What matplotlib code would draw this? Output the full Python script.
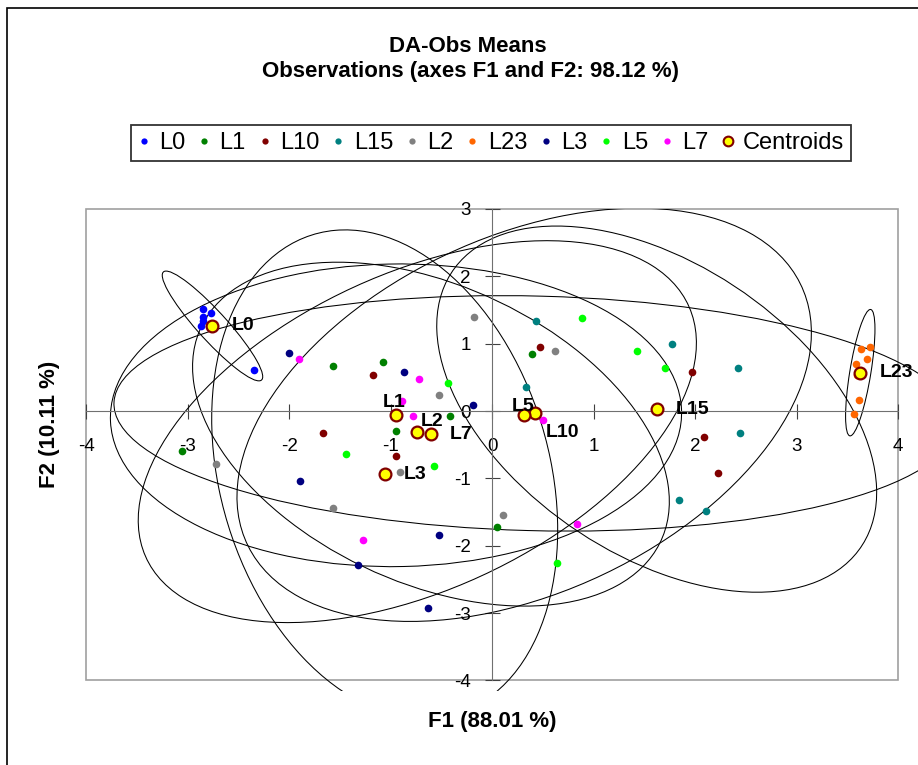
import numpy as np
import matplotlib
matplotlib.use('Agg')
import matplotlib.pyplot as plt
from matplotlib.patches import Ellipse, Rectangle
from matplotlib.lines import Line2D

plt.rcParams['font.family'] = ['Liberation Sans', 'DejaVu Sans']
plt.rcParams['axes.unicode_minus'] = False

# observations (F1, F2)
groups = ['L0', 'L1', 'L10', 'L15', 'L2', 'L23', 'L3', 'L5', 'L7']
L0_x = [-2.85, -2.77, -2.85, -2.85, -2.87, -2.35]
L0_y = [1.52, 1.46, 1.40, 1.33, 1.26, 0.61]
L1_x = [-1.57, -1.08, 0.39, -0.42, -0.95, -3.06, 0.05]
L1_y = [0.67, 0.73, 0.84, -0.08, -0.29, -0.59, -1.72]
L10_x = [-1.18, 0.47, 1.97, -1.67, -0.95, 2.09, 2.22]
L10_y = [0.53, 0.95, 0.58, -0.33, -0.67, -0.38, -0.92]
L15_x = [0.43, 1.77, 2.42, 0.33, 2.44, 1.84, 2.11]
L15_y = [1.34, 1.00, 0.64, 0.36, -0.33, -1.32, -1.49]
L2_x = [-0.18, 0.62, -0.52, -0.91, -2.72, -1.57, 0.11]
L2_y = [1.40, 0.89, 0.24, -0.90, -0.78, -1.44, -1.55]
L23_x = [3.63, 3.72, 3.69, 3.58, 3.59, 3.61, 3.56]
L23_y = [0.92, 0.95, 0.78, 0.70, 0.53, 0.16, -0.05]
L3_x = [-2.00, -0.87, -0.19, -1.89, -0.52, -1.32, -0.63]
L3_y = [0.86, 0.58, 0.09, -1.04, -1.84, -2.29, -2.92]
L5_x = [0.88, 1.43, 1.70, -0.44, -0.57, -1.44, 0.64]
L5_y = [1.38, 0.89, 0.64, 0.41, -0.81, -0.64, -2.26]
L7_x = [-1.90, -0.72, -0.89, -0.78, 0.50, -1.27, 0.83]
L7_y = [0.78, 0.47, 0.15, -0.08, -0.13, -1.92, -1.67]

xs = [L0_x, L1_x, L10_x, L15_x, L2_x, L23_x, L3_x, L5_x, L7_x]
ys = [L0_y, L1_y, L10_y, L15_y, L2_y, L23_y, L3_y, L5_y, L7_y]
colors = ['#0000ff', '#008000', '#800000', '#008080', '#808080',
          '#ff6600', '#000080', '#00ff00', '#ff00ff']

# label placement around the centroids (pixels)
label_pos = {'L0': (19, 0, 'center'), 'L1': (-13, 8, 'baseline'),
             'L10': (11, -24, 'baseline'), 'L15': (19, 0, 'center'),
             'L2': (3, 6, 'baseline'), 'L23': (19, 0, 'center'),
             'L3': (19, 0, 'center'), 'L5': (-12, 4, 'baseline'),
             'L7': (19, 0, 'center')}

fig = plt.figure(figsize=(9.18, 7.65), dpi=100)
ax = fig.add_axes([0.094, 0.1105, 0.8845, 0.6163])
ax.set_xlim(-4, 4)
ax.set_ylim(-4, 3)

# clip area for the ellipses, a bit larger than the plot area
clip = Rectangle((0, -0.022), 1.03, 1.022, transform=ax.transAxes,
                 facecolor='none', edgecolor='none')
ax.add_patch(clip)

chi2 = 5.991  # 95 %, 2 dof
for gx, gy in zip(xs, ys):
    cov = np.cov(gx, gy)
    vals, vecs = np.linalg.eigh(cov)
    order = vals.argsort()[::-1]
    vals, vecs = vals[order], vecs[:, order]
    angle = np.degrees(np.arctan2(vecs[1, 0], vecs[0, 0]))
    e = Ellipse((np.mean(gx), np.mean(gy)), 2 * np.sqrt(chi2 * vals[0]),
                2 * np.sqrt(chi2 * vals[1]), angle=angle,
                facecolor='none', edgecolor='black', linewidth=0.75, zorder=2)
    ax.add_patch(e)
    e.set_clip_path(clip)

for gx, gy, c in zip(xs, ys, colors):
    ax.plot(gx, gy, 'o', color=c, markersize=5.5, markeredgewidth=0, zorder=3)

for g, gx, gy in zip(groups, xs, ys):
    cx, cy = np.mean(gx), np.mean(gy)
    ax.plot(cx, cy, 'o', markerfacecolor='#ffff00', markeredgecolor='#800000',
            markersize=8.5, markeredgewidth=1.6, zorder=4)
    dx, dy, va = label_pos[g]
    ax.annotate(g, (cx, cy), xytext=(dx, dy), textcoords='offset pixels',
                ha='left', va=va, fontsize=14, fontweight='bold', zorder=5)

# axes through the origin
for side in ['top', 'right']:
    ax.spines[side].set_visible(False)
ax.spines['left'].set_position(('data', 0))
ax.spines['bottom'].set_position(('data', 0))
ax.spines['left'].set_color('#707070')
ax.spines['bottom'].set_color('#707070')
ax.add_patch(Rectangle((0, 0), 1, 1, transform=ax.transAxes, facecolor='none',
                       edgecolor='#a0a0a0', linewidth=1.2, clip_on=False, zorder=1))

ax.set_xticks(range(-4, 5))
ax.set_yticks(range(-4, 4))
ax.tick_params(axis='both', direction='inout', length=10.8, width=0.8,
               color='#404040', labelsize=13.5)
ax.tick_params(axis='x', pad=14)
ax.tick_params(axis='y', pad=10)

fig.text(468 / 918, 1 - 46 / 765, 'DA-Obs Means', ha='center', va='center',
         fontsize=16, fontweight='bold')
fig.text(471 / 918, 1 - 71 / 765, 'Observations (axes F1 and F2: 98.12 %)',
         ha='center', va='center', fontsize=16, fontweight='bold')
fig.text(492 / 918, 1 - 722 / 765, 'F1 (88.01 %)', ha='center', va='center',
         fontsize=16, fontweight='bold')
fig.text(50 / 918, 1 - 424 / 765, 'F2 (10.11 %)', ha='center', va='center',
         fontsize=16, fontweight='bold', rotation=90)

handles = [Line2D([], [], marker='o', linestyle='none', color=c, markersize=4.5,
                  markeredgewidth=0) for c in colors]
handles.append(Line2D([], [], marker='o', linestyle='none', markerfacecolor='#ffff00',
                      markeredgecolor='#800000', markersize=7, markeredgewidth=1.5))
leg = fig.legend(handles, groups + ['Centroids'], loc='center',
                 bbox_to_anchor=(491 / 918, 1 - 143 / 765), ncol=10,
                 fontsize=17, frameon=True, fancybox=False, handlelength=0.5,
                 handletextpad=0.4, columnspacing=0.55, borderpad=0.3,
                 borderaxespad=0)
leg.get_frame().set_edgecolor('black')
leg.get_frame().set_linewidth(1.3)

# outer chart frame
fig.patches.append(Rectangle((7 / 918, -0.5), 2, 1.5 - 8 / 765, transform=fig.transFigure,
                             facecolor='none', edgecolor='black', linewidth=1.2))

fig.savefig('out.png', dpi=100)
